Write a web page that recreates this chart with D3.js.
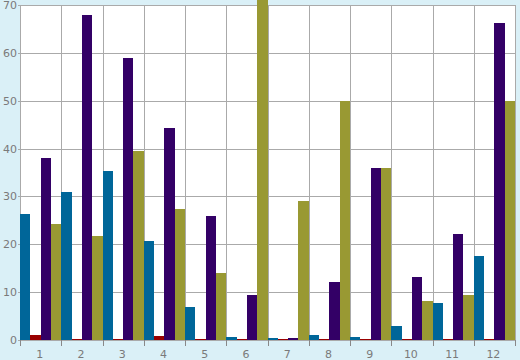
<!DOCTYPE html>
<html>
<head>
<meta charset="utf-8">
<script src="https://cdn.jsdelivr.net/npm/d3@7"></script>
<style>
    body { margin: 0; background: #daf0f7; }
    svg { display: block; }
    text { font-family: "DejaVu Sans", Verdana, sans-serif; font-size: 11px; fill: #7a7a7a; }
</style>
</head>
<body>
<svg id="chart" width="520" height="360"></svg>
<script>
var categories = ["1", "2", "3", "4", "5", "6", "7", "8", "9", "10", "11", "12"];
var series_names = ["blue", "red", "purple", "olive"];
var series_colors = ["#006699", "#990000", "#330066", "#999933"];

var blue_values = [26.3, 30.9, 35.4, 20.6, 7.0, 0.7, 0.4, 1.1, 0.7, 2.9, 7.7, 17.5];
var red_values = [1.1, 0.2, 0.2, 0.9, 0.3, 0.2, 0.2, 0.2, 0.2, 0.2, 0.2, 0.2];
var purple_values = [38.0, 68.0, 59.0, 44.4, 26.0, 9.4, 0.5, 12.2, 36.0, 13.1, 22.1, 66.3];
var olive_values = [24.2, 21.7, 39.4, 27.3, 13.9, 75, 29.0, 50.0, 36.0, 8.2, 9.4, 50.0];

var y_ticks = [0, 10, 20, 30, 40, 50, 60, 70];

var series = [blue_values, red_values, purple_values, olive_values];

var left = 20,
    right = 515,
    top_y = 5,
    bottom = 340;

var svg = d3.select("#chart");

var x = d3.scaleBand()
    .domain(categories)
    .range([left, right])
    .padding(0);

var x_inner = d3.scaleBand()
    .domain(series_names)
    .range([0, x.bandwidth()])
    .padding(0);

var y = d3.scaleLinear()
    .domain([0, 70])
    .range([bottom, top_y]);

// plot background
svg.append("rect")
    .attr("x", left)
    .attr("y", top_y)
    .attr("width", right - left)
    .attr("height", bottom - top_y)
    .style("fill", "#ffffff");

// horizontal grid
svg.append("g")
    .selectAll("line")
    .data(y_ticks)
    .join("line")
    .attr("x1", left - 2)
    .attr("x2", right)
    .attr("y1", function (d) { return Math.round(y(d)) + 0.5; })
    .attr("y2", function (d) { return Math.round(y(d)) + 0.5; })
    .style("stroke", "#aaaaaa");

// vertical grid at category boundaries
var bounds = categories.map(function (c) { return x(c); }).concat([right]);

svg.append("g")
    .selectAll("line")
    .data(bounds)
    .join("line")
    .attr("x1", function (d) { return Math.round(d) + 0.5; })
    .attr("x2", function (d) { return Math.round(d) + 0.5; })
    .attr("y1", top_y)
    .attr("y2", bottom)
    .style("stroke", "#aaaaaa");

// bars
series.forEach(function (values, s) {
    svg.append("g")
        .selectAll("rect")
        .data(values)
        .join("rect")
        .attr("x", function (d, i) { return Math.round(x(categories[i]) + x_inner(series_names[s])); })
        .attr("width", function (d, i) {
            var x0 = x(categories[i]) + x_inner(series_names[s]);
            return Math.round(x0 + x_inner.bandwidth()) - Math.round(x0);
        })
        .attr("y", function (d) { return Math.min(Math.round(y(d)), bottom - 1); })
        .attr("height", function (d) { return bottom - Math.min(Math.round(y(d)), bottom - 1); })
        .style("shape-rendering", "crispEdges")
        .style("fill", series_colors[s]);
});

// tick marks below x axis
svg.append("g")
    .selectAll("line")
    .data(bounds)
    .join("line")
    .attr("x1", function (d) { return Math.round(d) + 0.5; })
    .attr("x2", function (d) { return Math.round(d) + 0.5; })
    .attr("y1", bottom)
    .attr("y2", bottom + 6)
    .style("stroke", "#888888");

// y labels
svg.append("g")
    .selectAll("text")
    .data(y_ticks)
    .join("text")
    .attr("x", 17)
    .attr("y", function (d) { return y(d) + 4; })
    .attr("text-anchor", "end")
    .text(function (d) { return d; });

// x labels
svg.append("g")
    .selectAll("text")
    .data(categories)
    .join("text")
    .attr("x", function (d) { return x(d) + x.bandwidth() / 2 - 1; })
    .attr("y", 358)
    .attr("text-anchor", "middle")
    .text(function (d) { return d; });
</script>
</body>
</html>
